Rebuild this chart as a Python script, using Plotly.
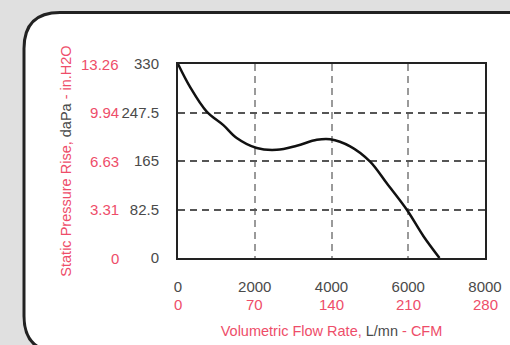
import plotly.graph_objects as go

# Data
flow_lpm = [0, 313, 748, 1182, 1530, 2052, 2574, 3095, 3617, 3963, 4485, 5006, 5441, 5963, 6397, 6814]
pressure_dapa = [330, 291, 249, 226, 204, 187, 184, 191, 201, 202, 190, 164, 127, 82, 37, 0]

x_ticks = [0, 2000, 4000, 6000, 8000]
x_tick_cfm = ["0", "70", "140", "210", "280"]
y_ticks = [0, 82.5, 165, 247.5, 330]
y_tick_labels = ["0", "82.5", "165", "247.5", "330"]
y_tick_inh2o = ["0", "3.31", "6.63", "9.94", "13.26"]

RED = "#ee4d69"
GRAY = "#4a4a4a"
FONT = "Liberation Sans, Arial, sans-serif"

W, H = 510, 345
ML, MR, MT, MB = 178, 25, 64, 87
PW, PH = W - ML - MR, H - MT - MB


def px(x):
    return (x - ML) / PW


def py(y):
    return (H - MB - y) / PH


fig = go.Figure()
fig.add_trace(go.Scatter(
    x=flow_lpm, y=pressure_dapa, mode="lines",
    line=dict(color="#111111", width=2.5, shape="spline", smoothing=1.0),
    hoverinfo="skip", showlegend=False,
))

# Card with rounded corners (pixel coords converted to paper)
L, R, T, B, r = 24, 525, 12.5, 352, 36
path = (
    f"M {px(L)},{py(T + r)} "
    f"Q {px(L)},{py(T)} {px(L + r)},{py(T)} "
    f"L {px(R)},{py(T)} "
    f"L {px(R)},{py(B)} "
    f"L {px(L + r)},{py(B)} "
    f"Q {px(L)},{py(B)} {px(L)},{py(B - r)} Z"
)
fig.add_shape(type="path", path=path, xref="paper", yref="paper",
              fillcolor="white", line=dict(color="#222222", width=3), layer="below")

# Red secondary tick labels
for yv, t in zip(y_ticks, y_tick_inh2o):
    fig.add_annotation(x=px(121), y=yv, xref="paper", yref="y", text=t,
                       showarrow=False, xanchor="right", yanchor="middle",
                       font=dict(color=RED, size=15, family=FONT))
for xv, t in zip(x_ticks, x_tick_cfm):
    fig.add_annotation(x=xv, y=py(304), xref="x", yref="paper", text=t,
                       showarrow=False, xanchor="center", yanchor="middle",
                       font=dict(color=RED, size=15, family=FONT))

fig.update_layout(
    width=W, height=H,
    margin=dict(l=ML, r=MR, t=MT, b=MB, autoexpand=False),
    paper_bgcolor="#e0e0e0",
    plot_bgcolor="white",
    font=dict(family=FONT, color=GRAY, size=15),
    xaxis=dict(
        range=[0, 8000], tickvals=x_ticks, ticktext=[str(v) for v in x_ticks],
        showgrid=True, gridcolor="#9a9a9a", gridwidth=1.5, griddash="7px,5px",
        zeroline=False, showline=True, linecolor="#222222", linewidth=2, mirror=True,
        ticks="", ticklabelstandoff=14, tickfont=dict(size=15, color=GRAY),
        automargin=False,
        title=dict(
            text=f"<span style='color:{RED}'>Volumetric Flow Rate,</span> L/mn <span style='color:{RED}'>- CFM</span>",
            font=dict(size=14.5, color=GRAY), standoff=32),
    ),
    yaxis=dict(
        range=[0, 330], tickvals=y_ticks, ticktext=y_tick_labels,
        showgrid=True, gridcolor="#555555", gridwidth=1.5, griddash="7px,5px",
        zeroline=False, showline=True, linecolor="#222222", linewidth=2, mirror=True,
        ticks="", ticklabelstandoff=14, tickfont=dict(size=15, color=GRAY),
        automargin=False,
        title=dict(
            text=f"<span style='color:{RED}'>Static Pressure Rise,</span> daPa <span style='color:{RED}'>- in.H2O</span>",
            font=dict(size=14.5, color=GRAY), standoff=46),
    ),
)

fig.write_html("out.html", config={"displayModeBar": False},
               post_script="document.body.style.margin='0';document.body.style.overflow='hidden';")
